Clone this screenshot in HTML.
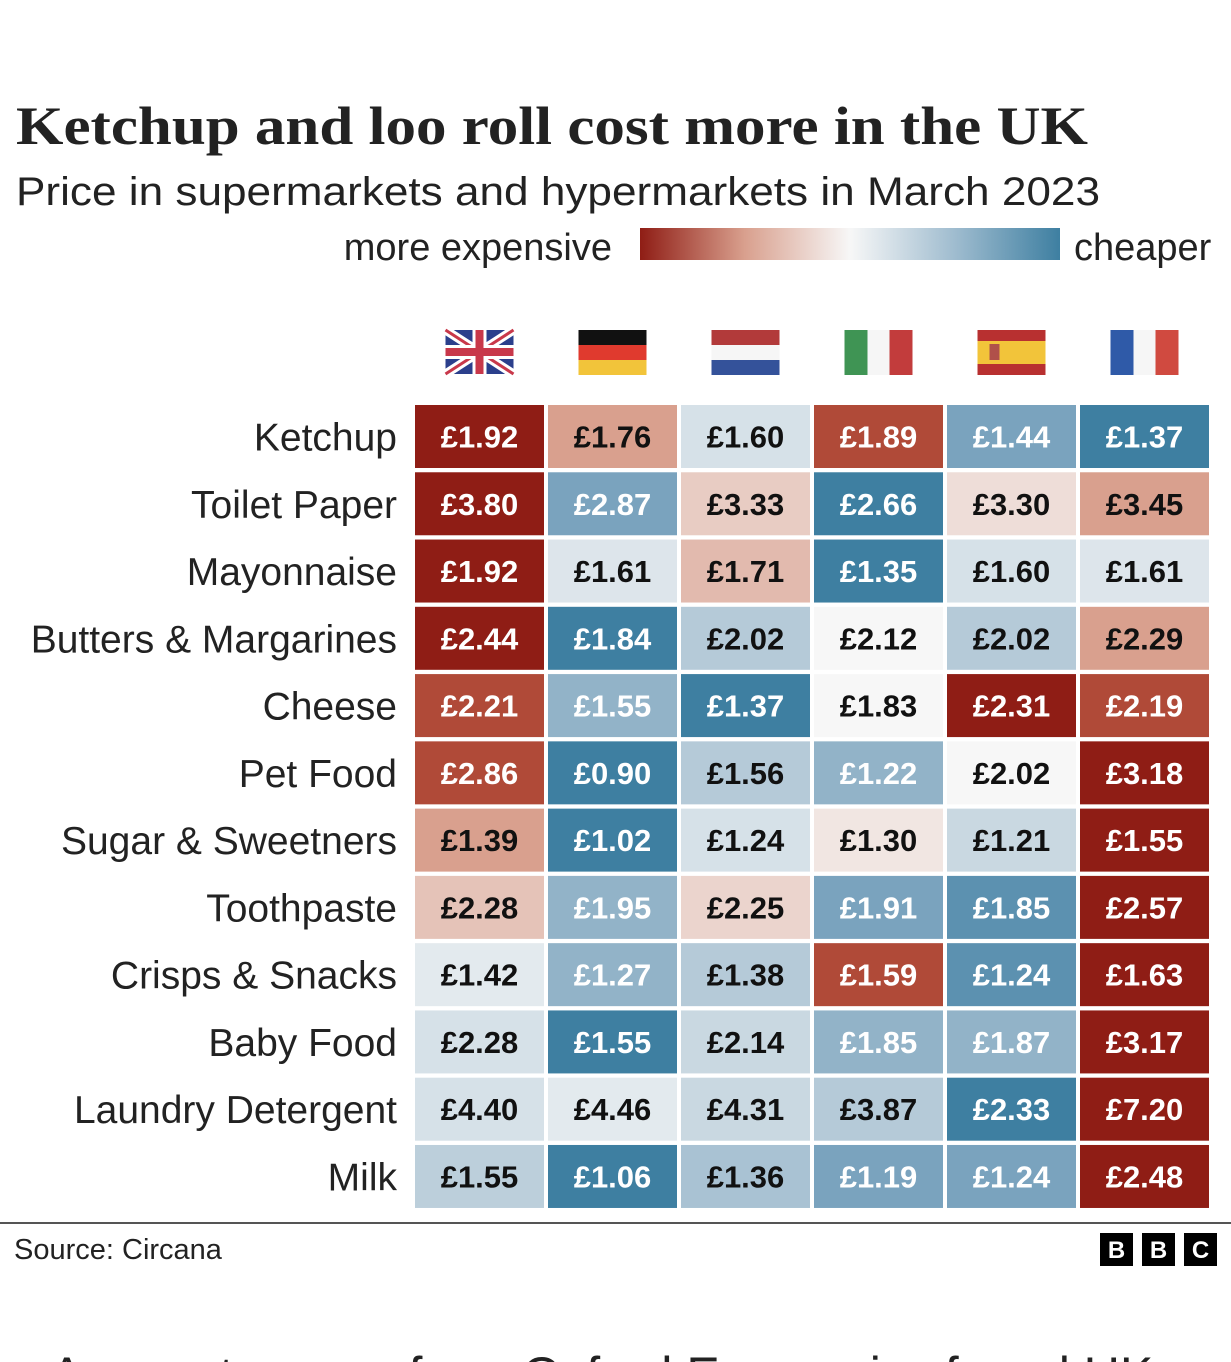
<!DOCTYPE html>
<html><head><meta charset="utf-8"><style>
html,body{margin:0;padding:0;background:#fff;width:1231px;height:1362px;overflow:hidden}
svg{display:block}
</style></head><body>
<svg id="chart" width="1231" height="1362" viewBox="0 0 1231 1362" xmlns="http://www.w3.org/2000/svg" font-family="Liberation Sans, sans-serif">
<text x="16" y="144" font-family="Liberation Serif, serif" font-weight="bold" font-size="54" textLength="1072" lengthAdjust="spacingAndGlyphs" fill="#222">Ketchup and loo roll cost more in the UK</text>
<text x="16" y="205" font-size="40" textLength="1084" lengthAdjust="spacingAndGlyphs" fill="#222">Price in supermarkets and hypermarkets in March 2023</text>
<defs><linearGradient id="lg" x1="0" x2="1" y1="0" y2="0">
<stop offset="0" stop-color="#8f1d15"/><stop offset="0.25" stop-color="#d9a08e"/><stop offset="0.5" stop-color="#f7f7f7"/><stop offset="0.75" stop-color="#9fbccf"/><stop offset="1" stop-color="#3e7fa1"/></linearGradient></defs>
<g>
<text x="612" y="260" text-anchor="end" font-size="38" fill="#222">more expensive</text>
<rect x="640" y="228" width="420" height="32" fill="url(#lg)"/>
<text x="1074" y="260" font-size="38" fill="#222">cheaper</text>
</g>
<g id="flags"></g>
<g id="cells"></g>
<line x1="0" y1="1223" x2="1231" y2="1223" stroke="#555" stroke-width="2"/>
<text x="14" y="1259" font-size="29" fill="#222">Source: Circana</text>
<g font-weight="bold" font-size="24" fill="#fff" text-anchor="middle">
<rect x="1100" y="1233" width="33" height="33" fill="#000"/><text x="1116.5" y="1258">B</text>
<rect x="1142" y="1233" width="33" height="33" fill="#000"/><text x="1158.5" y="1258">B</text>
<rect x="1184" y="1233" width="33" height="33" fill="#000"/><text x="1200.5" y="1258">C</text>
</g>
<text x="50" y="1392" font-size="50" fill="#222">A recent survey from Oxford Economics found UK</text>
</svg>
<script>
const countries = ["UK","Germany","Netherlands","Italy","Spain","France"];
const products = ["Ketchup","Toilet Paper","Mayonnaise","Butters & Margarines","Cheese","Pet Food","Sugar & Sweetners","Toothpaste","Crisps & Snacks","Baby Food","Laundry Detergent","Milk"];
const prices = [
 [1.92,1.76,1.60,1.89,1.44,1.37],
 [3.80,2.87,3.33,2.66,3.30,3.45],
 [1.92,1.61,1.71,1.35,1.60,1.61],
 [2.44,1.84,2.02,2.12,2.02,2.29],
 [2.21,1.55,1.37,1.83,2.31,2.19],
 [2.86,0.90,1.56,1.22,2.02,3.18],
 [1.39,1.02,1.24,1.30,1.21,1.55],
 [2.28,1.95,2.25,1.91,1.85,2.57],
 [1.42,1.27,1.38,1.59,1.24,1.63],
 [2.28,1.55,2.14,1.85,1.87,3.17],
 [4.40,4.46,4.31,3.87,2.33,7.20],
 [1.55,1.06,1.36,1.19,1.24,2.48]
];
// colour level: +3 most expensive (dark red) ... -3 cheapest (dark blue)
const levels = [
 [3,1,-0.5,2,-2,-3],
 [3,-2,0.5,-3,0.3,1],
 [3,-0.4,0.7,-3,-0.5,-0.4],
 [3,-3,-1,0,-1,1],
 [2,-1.6,-3,0,3,2],
 [2,-3,-1,-1.6,0,3],
 [1,-3,-0.5,0.2,-0.7,3],
 [0.6,-1.6,0.4,-2,-2.5,3],
 [-0.3,-1.6,-1,2,-2.5,3],
 [-0.5,-3,-0.7,-1.6,-1.6,3],
 [-0.5,-0.3,-0.7,-1,-3,3],
 [-0.9,-3,-1.2,-2,-2,3]
];
const stops=[[-3,[62,127,161]],[-2,[122,163,190]],[-1,[181,202,216]],[0,[247,247,247]],[1,[217,160,142]],[2,[176,74,56]],[3,[143,29,21]]];
function colorOf(l){for(let i=0;i<stops.length-1;i++){const a=stops[i],b=stops[i+1];if(l<=b[0]){const t=(l-a[0])/(b[0]-a[0]);return 'rgb('+a[1].map((c,k)=>Math.round(c+(b[1][k]-c)*t)).join(',')+')';}}return 'rgb(143,29,21)';}
const NS="http://www.w3.org/2000/svg";
const x0=415,cw=129,gx=4,y0=405,ch=63,gy=4.27;
const xPos=i=>x0+i*(cw+gx), yPos=j=>y0+j*(ch+gy);
const cells=document.getElementById('cells');
products.forEach((p,j)=>{
 const lab=document.createElementNS(NS,'text');
 
 
 lab.setAttribute('x',397);lab.setAttribute('y',yPos(j)+ch/2+14);lab.setAttribute('text-anchor','end');lab.setAttribute('font-size','39');lab.setAttribute('fill','#222');
 lab.textContent=p;cells.appendChild(lab);
 countries.forEach((c,i)=>{
  const r=document.createElementNS(NS,'rect');
  
  
  r.setAttribute('x',xPos(i));r.setAttribute('y',yPos(j));r.setAttribute('width',cw);r.setAttribute('height',ch);r.setAttribute('fill',colorOf(levels[j][i]));
  cells.appendChild(r);
  const t=document.createElementNS(NS,'text');
  
  
  t.setAttribute('x',xPos(i)+cw/2);t.setAttribute('y',yPos(j)+ch/2+11);t.setAttribute('text-anchor','middle');t.setAttribute('font-size','31');t.setAttribute('font-weight','bold');
  t.setAttribute('fill',Math.abs(levels[j][i])>=1.5?'#fff':'#111');
  t.textContent='£'+prices[j][i].toFixed(2);cells.appendChild(t);
 });
});
const flagDefs={
 UK:'<rect width="68" height="44" fill="#2b3f8c"/><path d="M0 0L68 44M68 0L0 44" stroke="#fff" stroke-width="9"/><path d="M0 0L68 44M68 0L0 44" stroke="#c8384a" stroke-width="3"/><rect x="27" width="14" height="44" fill="#fff"/><rect y="15" width="68" height="14" fill="#fff"/><rect x="30" width="8" height="44" fill="#c8384a"/><rect y="18" width="68" height="8" fill="#c8384a"/>',
 Germany:'<rect width="68" height="15" fill="#111"/><rect y="15" width="68" height="15" fill="#e03a2e"/><rect y="30" width="68" height="15" fill="#f2c43a"/>',
 Netherlands:'<rect width="68" height="15" fill="#b23a3a"/><rect y="15" width="68" height="15" fill="#f6f6f6"/><rect y="30" width="68" height="15" fill="#34529a"/>',
 Italy:'<rect width="23" height="45" fill="#3f9454"/><rect x="23" width="22" height="45" fill="#f6f6f6"/><rect x="45" width="23" height="45" fill="#c23c3c"/>',
 Spain:'<rect width="68" height="45" fill="#b83030"/><rect y="11" width="68" height="23" fill="#f2c43a"/><rect x="12" y="14" width="10" height="16" fill="#b0504a"/>',
 France:'<rect width="23" height="45" fill="#2f5aa8"/><rect x="23" width="22" height="45" fill="#f6f6f6"/><rect x="45" width="23" height="45" fill="#d04a40"/>'
};
const fg=document.getElementById('flags');
countries.forEach((c,i)=>{
 const g=document.createElementNS(NS,'g');
 
 
 g.setAttribute('transform','translate('+(xPos(i)+cw/2-34)+',330)');
 g.innerHTML=flagDefs[c];fg.appendChild(g);
});
</script>
</body></html>
